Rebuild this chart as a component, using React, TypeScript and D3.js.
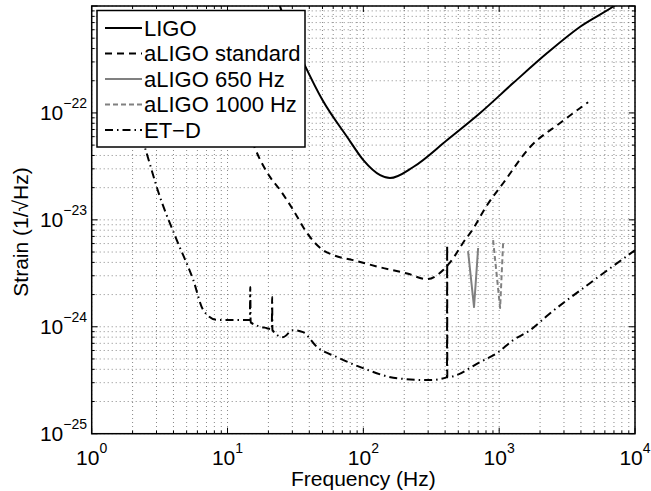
import React from 'react';
import * as d3 from 'd3';

// LIGO design curve
const ligoFreq = [22, 25, 30, 37, 50, 76, 100, 133, 157, 233, 414, 724, 1267, 2255, 3945, 7000, 10000];
const ligoStrain = [1.5e-21, 9e-22, 5e-22, 2.8e-22, 1.32e-22, 5.96e-23, 3.62e-23, 2.62e-23, 2.46e-23, 3.12e-23, 5.58e-23, 9.98e-23, 1.9e-22, 3.63e-22, 6.4e-22, 1e-21, 1.4e-21];

// aLIGO standard
const aligoFreq = [10, 13, 15.9, 20.6, 24.4, 30.4, 38.5, 50.5, 59.8, 84, 133, 210, 294, 387, 435, 580, 611, 814, 1069, 1690, 2810, 4520];
const aligoStrain = [4e-22, 1e-22, 4.7e-23, 2.51e-23, 1.9e-23, 1.24e-23, 7.52e-24, 5.21e-24, 4.69e-24, 4.2e-24, 3.6e-24, 3.15e-24, 2.79e-24, 3.39e-24, 4.0e-24, 6.9e-24, 7.5e-24, 1.37e-23, 2.2e-23, 4.8e-23, 8.05e-23, 1.26e-22];

// aLIGO narrowband 650 Hz / 1000 Hz
const aligo650Freq = [590, 653, 700];
const aligo650Strain = [5.1e-24, 1.53e-24, 5.45e-24];
const aligo1000Freq = [902, 1016, 1069];
const aligo1000Strain = [6.47e-24, 1.5e-24, 6.07e-24];

// ET-D
const etFreq = [1.5, 2.0, 2.47, 3.18, 4.23, 5.6, 6.63, 8.33, 10.4, 14.6, 14.7, 14.8, 19.5, 21.2, 21.3, 21.4, 25.6, 30.3, 36, 45.7, 64, 99.5, 177, 310, 413, 414, 415, 724, 967, 1267, 1690, 2290, 4680, 10000];
const etStrain = [3.6e-22, 1.1e-22, 4.7e-23, 1.64e-23, 6.47e-24, 2.73e-24, 1.43e-24, 1.16e-24, 1.16e-24, 1.16e-24, 2.35e-24, 1.1e-24, 9.7e-25, 9.5e-25, 1.9e-24, 9.3e-25, 8.0e-25, 9.3e-25, 8.9e-25, 6.45e-25, 5.2e-25, 4.1e-25, 3.3e-25, 3.17e-25, 3.38e-25, 5.8e-24, 3.38e-25, 4.68e-25, 5.7e-25, 7.5e-25, 9.3e-25, 1.29e-24, 2.57e-24, 5.2e-24];

const xDecades = [0, 1, 2, 3, 4];
const yDecades = [-25, -24, -23, -22, -21];
const legendLabels = ['LIGO', 'aLIGO standard', 'aLIGO 650 Hz', 'aLIGO 1000 Hz', 'ET\u2212D'];

const W = 651, H = 491;
const left = 91.7, right = 635, top = 6, bottom = 433.7;
const font = 'Liberation Sans, Arial, Helvetica, sans-serif';

export default function App() {
  const x = d3.scaleLog().domain([1, 1e4]).range([left, right]);
  const y = d3.scaleLog().domain([1e-25, 1e-21]).range([bottom, top]);

  const smooth = d3.line<[number, number]>().x(d => x(d[0])).y(d => y(d[1])).curve(d3.curveMonotoneX);
  const straight = d3.line<[number, number]>().x(d => x(d[0])).y(d => y(d[1]));
  const path = (f: number[], s: number[], gen = smooth) => gen(f.map((v, i) => [v, s[i]] as [number, number])) || '';

  // minor + major grid positions
  const xGrid: number[] = [];
  xDecades.slice(0, -1).forEach(p => d3.range(1, 10).forEach(m => xGrid.push(m * Math.pow(10, p))));
  xGrid.push(1e4);
  const yGrid: number[] = [];
  yDecades.slice(0, -1).forEach(p => d3.range(1, 10).forEach(m => yGrid.push(m * Math.pow(10, p))));
  yGrid.push(1e-21);

  const series = [
    { d: path(ligoFreq, ligoStrain), color: '#000', dash: undefined as string | undefined, w: 2 },
    { d: path(aligoFreq, aligoStrain), color: '#000', dash: '7,5', w: 2 },
    { d: path(aligo650Freq, aligo650Strain, straight), color: '#808080', dash: undefined, w: 2 },
    { d: path(aligo1000Freq, aligo1000Strain, straight), color: '#808080', dash: '5,3', w: 2 },
    { d: path(etFreq, etStrain), color: '#000', dash: '8,4,1.5,4', w: 2 },
  ];

  const isMajor = (v: number) => Math.abs(Math.log10(v) - Math.round(Math.log10(v))) < 1e-6;

  return (
    <svg width={W} height={H} style={{ position: 'absolute', left: 0, top: 0, background: '#fff' }} fontFamily={font}>
      <defs>
        <clipPath id="plot">
          <rect x={left} y={top} width={right - left} height={bottom - top} />
        </clipPath>
      </defs>
      <rect x={0} y={0} width={W} height={H} fill="#fff" />

      {/* grid */}
      <g stroke="#555" strokeWidth={0.7} strokeDasharray="1,3">
        {xGrid.map((v, i) => (
          <line key={'gx' + i} x1={x(v)} x2={x(v)} y1={top} y2={bottom} />
        ))}
        {yGrid.map((v, i) => (
          <line key={'gy' + i} x1={left} x2={right} y1={y(v)} y2={y(v)} />
        ))}
      </g>

      {/* ticks on all sides */}
      <g stroke="#000" strokeWidth={1}>
        {xGrid.map((v, i) => {
          const len = isMajor(v) ? 6 : 3;
          return (
            <g key={'tx' + i}>
              <line x1={x(v)} x2={x(v)} y1={bottom} y2={bottom - len} />
              <line x1={x(v)} x2={x(v)} y1={top} y2={top + len} />
            </g>
          );
        })}
        {yGrid.map((v, i) => {
          const len = isMajor(v) ? 6 : 3;
          return (
            <g key={'ty' + i}>
              <line x1={left} x2={left + len} y1={y(v)} y2={y(v)} />
              <line x1={right} x2={right - len} y1={y(v)} y2={y(v)} />
            </g>
          );
        })}
      </g>

      {/* curves */}
      <g clipPath="url(#plot)" fill="none">
        {series.map((s, i) => (
          <path key={'s' + i} d={s.d} stroke={s.color} strokeWidth={s.w} strokeDasharray={s.dash} strokeLinejoin="round" />
        ))}
      </g>

      <rect x={left} y={top} width={right - left} height={bottom - top} fill="none" stroke="#000" strokeWidth={1.5} />

      {/* x tick labels */}
      {xDecades.map(p => (
        <text key={'xl' + p} x={x(Math.pow(10, p))} y={465} textAnchor="middle" fontSize={21}>
          10<tspan dy={-12} fontSize={14}>{p}</tspan>
        </text>
      ))}
      {/* y tick labels */}
      {yDecades.slice(0, -1).map(p => (
        <text key={'yl' + p} x={87} y={y(Math.pow(10, p)) + 7} textAnchor="end" fontSize={21}>
          10<tspan dy={-12} fontSize={14}>{'\u2212' + Math.abs(p)}</tspan>
        </text>
      ))}

      <text x={(left + right) / 2} y={486} textAnchor="middle" fontSize={21}>Frequency (Hz)</text>
      <text transform={`translate(28,232) rotate(-90)`} textAnchor="middle" fontSize={21}>
        Strain (1/{'\u221A'}Hz)
      </text>

      {/* legend */}
      <g>
        <rect x={97} y={10.5} width={208} height={136.5} fill="#fff" stroke="#000" strokeWidth={1.5} />
        {series.map((s, i) => {
          const cy = 28 + i * 25.5;
          return (
            <g key={'lg' + i}>
              <line x1={105} x2={142} y1={cy} y2={cy} stroke={s.color} strokeWidth={s.w} strokeDasharray={s.dash} />
              <text x={144} y={cy + 7.5} fontSize={22}>{legendLabels[i]}</text>
            </g>
          );
        })}
      </g>
    </svg>
  );
}
